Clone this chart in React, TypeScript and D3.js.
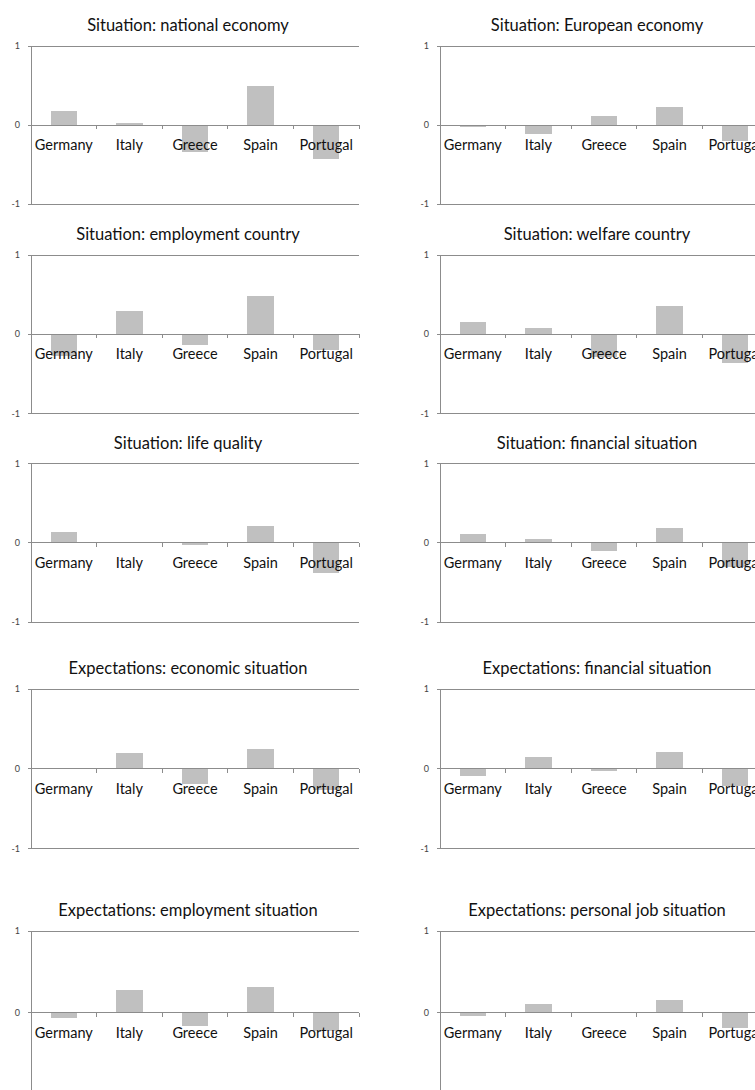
import { scaleBand, scaleLinear } from "d3";

const categories = ["Germany", "Italy", "Greece", "Spain", "Portugal"];
const yTicks = [1, 0, -1];

const titles = [
  "Situation: national economy",
  "Situation: European economy",
  "Situation: employment country",
  "Situation: welfare country",
  "Situation: life quality",
  "Situation: financial situation",
  "Expectations: economic situation",
  "Expectations: financial situation",
  "Expectations: employment situation",
  "Expectations: personal job situation",
];

const nationalEconomy = [0.18, 0.025, -0.34, 0.49, -0.43];
const europeanEconomy = [-0.03, -0.11, 0.12, 0.23, -0.2];
const employmentCountry = [-0.27, 0.3, -0.14, 0.48, -0.2];
const welfareCountry = [0.15, 0.075, -0.29, 0.36, -0.36];
const lifeQuality = [0.13, 0, -0.03, 0.21, -0.38];
const financialSituation = [0.11, 0.05, -0.105, 0.19, -0.31];
const expEconomic = [0.01, 0.2, -0.185, 0.25, -0.26];
const expFinancial = [-0.09, 0.15, -0.03, 0.21, -0.21];
const expEmployment = [-0.07, 0.27, -0.17, 0.31, -0.23];
const expPersonalJob = [-0.04, 0.1, 0, 0.15, -0.19];

const series = [
  nationalEconomy,
  europeanEconomy,
  employmentCountry,
  welfareCountry,
  lifeQuality,
  financialSituation,
  expEconomic,
  expFinancial,
  expEmployment,
  expPersonalJob,
];

// layout
const W = 755;
const H = 1090;
const colX = [31, 440];
const plotW = 328;
const rowTop = [46, 255, 463.5, 689, 931];
const rowHalf = [79, 79.3, 79.3, 79.8, 81.5];
const FONT = "Lato, 'Open Sans', sans-serif";
const AXIS = "#8c8c8c";
const BAR = "#c0c0c0";

function Panel({
  x0,
  y0,
  half,
  title,
  values,
}: {
  x0: number;
  y0: number;
  half: number;
  title: string;
  values: number[];
}) {
  const x = scaleBand<string>()
    .domain(categories)
    .range([x0, x0 + plotW])
    .paddingInner(0.6)
    .paddingOuter(0.3);
  const y = scaleLinear().domain([1, -1]).range([y0, y0 + half * 2]);
  const step = x.step();
  const zero = y(0);
  const bounds = categories.map((_, i) => x0 + step * (i + 1));

  return (
    <g>
      <text
        x={x0 + plotW / 2 - 7}
        y={y0 - 15}
        textAnchor="middle"
        fontSize={16.5}
        fill="#111"
        fontFamily={FONT}
      >
        {title}
      </text>
      {/* gridlines at 1 and -1 */}
      {[1, -1].map((t) => (
        <line key={t} x1={x0 - 3} x2={x0 + plotW} y1={y(t)} y2={y(t)} stroke={AXIS} strokeWidth={1} />
      ))}
      {/* bars */}
      {values.map((v, i) => (
        <rect
          key={i}
          x={x(categories[i])}
          width={x.bandwidth()}
          y={Math.min(y(v), zero)}
          height={Math.abs(y(v) - zero)}
          fill={BAR}
        />
      ))}
      {/* value axis */}
      <line x1={x0} x2={x0} y1={y0} y2={y(-1)} stroke={AXIS} strokeWidth={1} />
      {yTicks.map((t) => (
        <g key={t}>
          <line x1={x0 - 3} x2={x0} y1={y(t)} y2={y(t)} stroke={AXIS} />
          <text
            x={x0 - 11}
            y={y(t)}
            dy="0.35em"
            textAnchor="end"
            fontSize={9}
            fill="#444"
            fontFamily={FONT}
          >
            {t}
          </text>
        </g>
      ))}
      {/* category axis at zero */}
      <line x1={x0 - 3} x2={x0 + plotW} y1={zero} y2={zero} stroke={AXIS} strokeWidth={1} />
      {bounds.map((bx, i) => (
        <line key={i} x1={bx} x2={bx} y1={zero} y2={zero + 4} stroke={AXIS} />
      ))}
      {categories.map((c) => (
        <text
          key={c}
          x={(x(c) ?? 0) + x.bandwidth() / 2}
          y={zero + 25}
          textAnchor="middle"
          fontSize={14.5}
          fill="#111"
          fontFamily={FONT}
        >
          {c}
        </text>
      ))}
    </g>
  );
}

export default function App() {
  return (
    <svg
      width={W}
      height={H}
      viewBox={`0 0 ${W} ${H}`}
      style={{ position: "absolute", left: 0, top: 0, background: "#fff" }}
      shapeRendering="crispEdges"
    >
      <rect width={W} height={H} fill="#fff" />
      {series.map((vals, i) => (
        <Panel
          key={i}
          x0={colX[i % 2]}
          y0={rowTop[Math.floor(i / 2)]}
          half={rowHalf[Math.floor(i / 2)]}
          title={titles[i]}
          values={vals}
        />
      ))}
    </svg>
  );
}
